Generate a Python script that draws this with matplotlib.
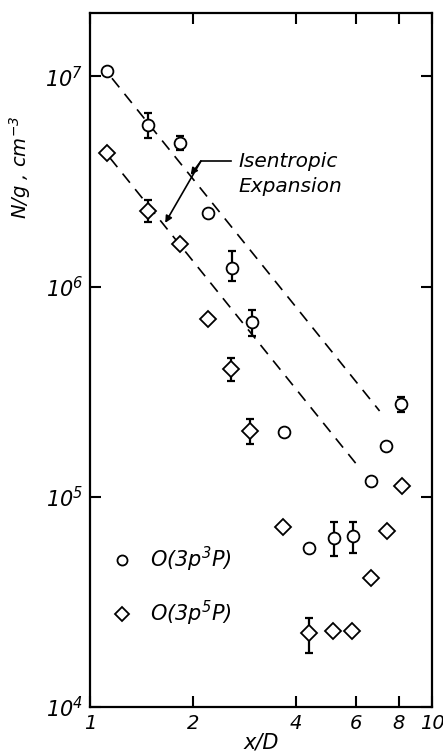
import numpy as np
import matplotlib
import matplotlib.pyplot as plt
from matplotlib.ticker import FixedLocator, FixedFormatter, NullLocator

matplotlib.use('Agg')

plt.rcParams['font.family'] = ['DejaVu Sans']
plt.rcParams['mathtext.fontset'] = 'custom'
plt.rcParams['mathtext.rm'] = 'DejaVu Sans:italic'
plt.rcParams['mathtext.it'] = 'DejaVu Sans:italic'
plt.rcParams['mathtext.default'] = 'it'

# O(3p 3P) - circles
x_3p3 = [1.12, 1.48, 1.84, 2.21, 2.60, 2.98, 3.69, 4.38, 5.18, 5.86, 6.62, 7.32, 8.11]
y_3p3 = [1.06e7, 5.86e6, 4.81e6, 2.24e6, 1.23e6, 6.75e5, 2.03e5, 5.68e4, 6.4e4, 6.53e4, 1.19e5, 1.75e5, 2.75e5]
# error bars (index, upper, lower)
err_idx_3p3 = [1, 2, 4, 5, 8, 9, 12]
err_hi_3p3 = [6.68e6, 5.2e6, 1.47e6, 7.7e5, 7.6e4, 7.6e4, 2.98e5]
err_lo_3p3 = [5.08e6, 4.46e6, 1.06e6, 5.8e5, 5.25e4, 5.43e4, 2.53e5]

# O(3p 5P) - diamonds
x_3p5 = [1.12, 1.48, 1.84, 2.21, 2.58, 2.94, 3.67, 4.38, 5.15, 5.82, 6.62, 7.38, 8.16]
y_3p5 = [4.32e6, 2.29e6, 1.6e6, 7.05e5, 4.05e5, 2.05e5, 7.22e4, 2.24e4, 2.29e4, 2.29e4, 4.13e4, 6.9e4, 1.13e5]
err_idx_3p5 = [1, 4, 5, 7]
err_hi_3p5 = [2.58e6, 4.56e5, 2.34e5, 2.64e4]
err_lo_3p5 = [2.03e6, 3.55e5, 1.78e5, 1.8e4]

# isentropic expansion lines
isen_upper_x = [1.16, 7.03]
isen_upper_y = [9.8e6, 2.56e5]
isen_lower_x = [1.145, 6.10]
isen_lower_y = [4.09e6, 1.39e5]

xticks = [1, 2, 4, 6, 8, 10]
yticks = [1e4, 1e5, 1e6, 1e7]
ytick_labels = ['$10^4$', '$10^5$', '$10^6$', '$10^7$']

fig = plt.figure(figsize=(4.43, 7.55), dpi=100)
ax = fig.add_axes([0.203, 0.0636, 0.772, 0.919])
ax.set_xscale('log')
ax.set_yscale('log')
ax.set_xlim(1, 10)
ax.set_ylim(1e4, 2e7)

dash = (0, (7, 5))
ax.plot(isen_upper_x, isen_upper_y, color='black', lw=1.2, linestyle=dash)
ax.plot(isen_lower_x, isen_lower_y, color='black', lw=1.2, linestyle=dash)

def add_errors(xs, ys, idx, hi, lo):
    ex = [xs[i] for i in idx]
    ey = [ys[i] for i in idx]
    yerr = np.array([np.array(ey) - np.array(lo), np.array(hi) - np.array(ey)])
    ax.errorbar(ex, ey, yerr=yerr, fmt='none', ecolor='black', elinewidth=1.6,
                capsize=3, capthick=1.6, zorder=2)

add_errors(x_3p3, y_3p3, err_idx_3p3, err_hi_3p3, err_lo_3p3)
add_errors(x_3p5, y_3p5, err_idx_3p5, err_hi_3p5, err_lo_3p5)

ax.plot(x_3p3, y_3p3, 'o', ms=8.5, mfc='white', mec='black', mew=1.3,
        linestyle='none', zorder=3, label='O(3p$^3$P)')
ax.plot(x_3p5, y_3p5, 'D', ms=8, mfc='white', mec='black', mew=1.3,
        linestyle='none', zorder=3, label='O(3p$^5$P)')

# annotation
ax.plot([2.58, 2.11], [3.95e6, 3.95e6], color='black', lw=1.2)
ax.annotate('', xy=(1.97, 3.4e6), xytext=(2.11, 3.95e6),
            arrowprops=dict(arrowstyle='-|>', color='black', lw=1.2, mutation_scale=10,
                            shrinkA=0, shrinkB=0))
ax.annotate('', xy=(1.66, 2.01e6), xytext=(2.11, 3.95e6),
            arrowprops=dict(arrowstyle='-|>', color='black', lw=1.2, mutation_scale=10,
                            shrinkA=0, shrinkB=0))
ax.text(2.71, 3.43e6, 'Isentropic\nExpansion', fontsize=14.5, style='italic',
        va='center', ha='left', linespacing=1.45)

ax.legend(loc='lower left', bbox_to_anchor=(0.064, 0.114), frameon=False,
          prop={'style': 'italic', 'size': 15}, handlelength=1.0,
          handletextpad=0.85, labelspacing=1.2, borderpad=0, borderaxespad=0,
          markerscale=0.85)

ax.xaxis.set_major_locator(FixedLocator(xticks))
ax.xaxis.set_major_formatter(FixedFormatter([str(t) for t in xticks]))
ax.xaxis.set_minor_locator(NullLocator())
ax.yaxis.set_major_locator(FixedLocator(yticks))
ax.yaxis.set_major_formatter(FixedFormatter(ytick_labels))
ax.yaxis.set_minor_locator(NullLocator())
ax.tick_params(which='major', direction='in', length=8, width=1.5,
               top=True, right=True, labelsize=15)
ax.tick_params(axis='x', pad=5, labelsize=14)
ax.tick_params(axis='y', pad=5)
for lab in ax.get_xticklabels():
    lab.set_style('italic')

for s in ax.spines.values():
    s.set_linewidth(1.6)

ax.set_xlabel('x/D', fontsize=15, style='italic', labelpad=0)
ax.set_ylabel('N/g , cm$^{-3}$', fontsize=14, style='italic')
ax.yaxis.set_label_coords(-0.165, 0.778)

fig.savefig('out.png', dpi=100)
